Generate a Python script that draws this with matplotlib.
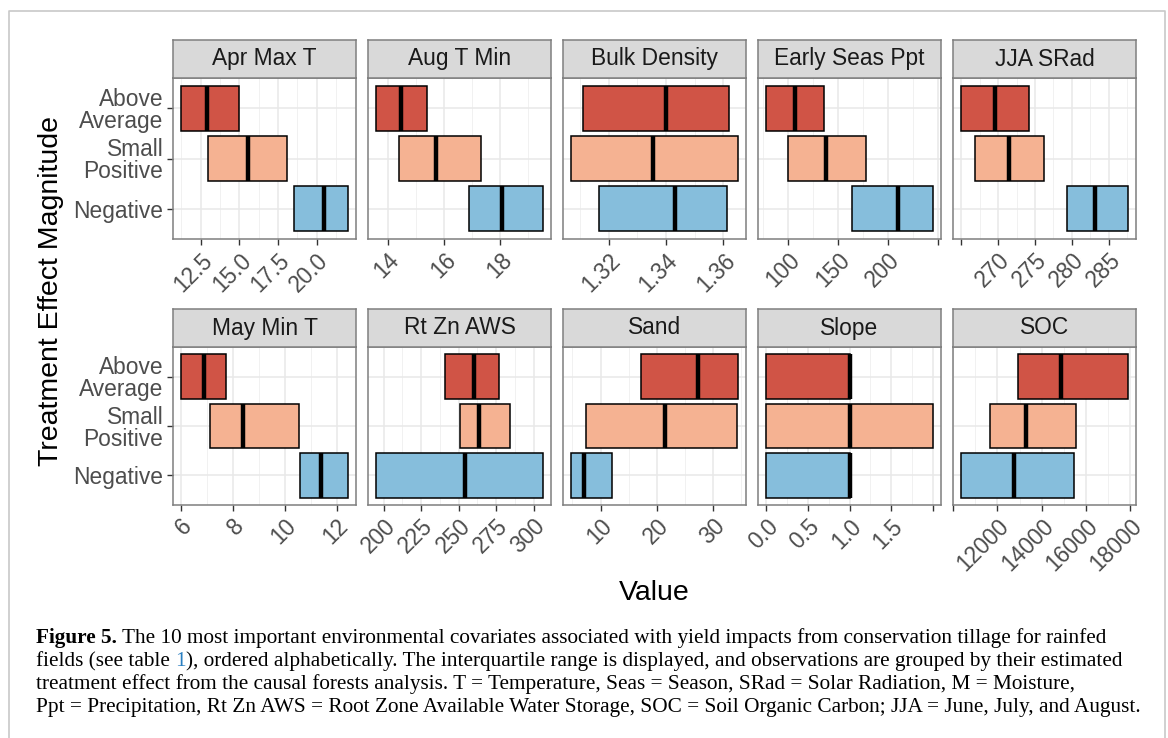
import numpy as np
import matplotlib.pyplot as plt
from matplotlib.lines import Line2D
from matplotlib.ticker import AutoMinorLocator

plt.rcParams['font.family'] = ['Liberation Sans', 'DejaVu Sans']

# %% data (interquartile range + median per treatment-effect group)
features = ["Apr Max T", "Aug T Min", "Bulk Density", "Early Seas Ppt", "JJA SRad",
            "May Min T", "Rt Zn AWS", "Sand", "Slope", "SOC"]
groups = ["Above Average", "Small Positive", "Negative"]
group_labels = ["Above\nAverage", "Small\nPositive", "Negative"]

above_q1 = [11.26, 13.59, 1.311, 78.3, 265.0, 6.03, 240.9, 17.2, 0.0, 12940]
above_med = [12.93, 14.48, 1.340, 106.8, 269.6, 6.89, 260.4, 27.4, 1.0, 14860]
above_q3 = [15.0, 15.39, 1.362, 136.1, 274.2, 7.73, 277.2, 34.4, 1.0, 17880]

small_q1 = [12.97, 14.39, 1.307, 100.0, 266.9, 7.12, 251.1, 7.4, 0.0, 11670]
small_med = [15.54, 15.73, 1.3355, 138.0, 271.5, 8.40, 263.3, 21.5, 1.0, 13270]
small_q3 = [18.07, 17.32, 1.365, 178.0, 276.2, 10.56, 284.3, 34.3, 2.0, 15530]

neg_q1 = [18.54, 16.89, 1.3167, 163.5, 279.3, 10.60, 195.1, 4.8, 0.0, 10370]
neg_med = [20.49, 18.07, 1.343, 210.3, 283.2, 11.39, 254.2, 7.0, 1.0, 12750]
neg_q3 = [21.99, 19.51, 1.3612, 244.5, 287.6, 12.42, 306.0, 12.1, 1.0, 15440]

ticks = [[12.5, 15, 17.5, 20], [14, 16, 18], [1.32, 1.34, 1.36], [100, 150, 200, 250],
         [265, 270, 275, 280, 285], [6, 8, 10, 12], [200, 225, 250, 275, 300],
         [10, 20, 30], [0, 0.5, 1, 1.5, 2], [10000, 12000, 14000, 16000, 18000]]
tick_labels = [["12.5", "15.0", "17.5", "20.0"], ["14", "16", "18"], ["1.32", "1.34", "1.36"],
               ["100", "150", "200", ""], ["", "270", "275", "280", "285"], ["6", "8", "10", "12"],
               ["200", "225", "250", "275", "300"], ["10", "20", "30"],
               ["0.0", "0.5", "1.0", "1.5", ""], ["", "12000", "14000", "16000", "18000"]]

colors = ["#D05446", "#F5B292", "#86BEDC"]

caption = [
    [("Figure 5.", "bold", "black"),
     (" The 10 most important environmental covariates associated with yield impacts from conservation tillage for rainfed", "normal", "black")],
    [("fields (see table ", "normal", "black"), ("1", "normal", "#2a7fc1"),
     ("), ordered alphabetically. The interquartile range is displayed, and observations are grouped by their estimated", "normal", "black")],
    [("treatment effect from the causal forests analysis. T = Temperature, Seas = Season, SRad = Solar Radiation, M = Moisture,", "normal", "black")],
    [("Ppt = Precipitation, Rt Zn AWS = Root Zone Available Water Storage, SOC = Soil Organic Carbon; JJA = June, July, and August.", "normal", "black")],
]

# %% figure
W, H = 1168, 738
fig = plt.figure(figsize=(W / 100, H / 100), dpi=100)


def px_axes(x0, y0, x1, y1):
    return fig.add_axes([x0 / W, 1 - y1 / H, (x1 - x0) / W, (y1 - y0) / H])


ypos = np.array([3, 2, 1])
frame = '#7f7f7f'

for i, name in enumerate(features):
    row, col = divmod(i, 5)
    x0 = 173 + col * 195
    top, bot = (78, 239) if row == 0 else (347, 505)
    ax = px_axes(x0, top, x0 + 183, bot)

    q1 = np.array([above_q1[i], small_q1[i], neg_q1[i]])
    q3 = np.array([above_q3[i], small_q3[i], neg_q3[i]])
    med = np.array([above_med[i], small_med[i], neg_med[i]])

    ax.barh(ypos, q3 - q1, left=q1, height=0.9, color=colors,
            edgecolor='black', linewidth=1.1, zorder=3)
    ax.vlines(med, ypos - 0.45, ypos + 0.45, color='black', lw=3.2,
              capstyle='butt', zorder=4)

    lo, hi = q1.min(), q3.max()
    pad = 0.05 * (hi - lo)
    ax.set_xlim(lo - pad, hi + pad)
    ax.set_ylim(0.4, 3.6)

    ax.set_xticks(ticks[i], tick_labels[i], rotation=45, ha='right',
                  rotation_mode='anchor')
    ax.xaxis.set_minor_locator(AutoMinorLocator(2))
    ax.tick_params(axis='x', which='major', length=4, width=1.0, color='#333333',
                   labelsize=16.4, labelcolor='#4D4D4D', pad=3)
    ax.tick_params(axis='x', which='minor', length=0)

    ax.set_yticks([1, 2, 3])
    if col == 0:
        ax.set_yticklabels(group_labels[::-1], linespacing=0.95)
        ax.tick_params(axis='y', length=4, width=1.0, color='#333333',
                       labelsize=16.4, labelcolor='#4D4D4D', pad=3)
    else:
        ax.tick_params(axis='y', length=0, labelleft=False)

    ax.grid(which='major', color='#E8E8E8', lw=1.1)
    ax.grid(which='minor', axis='x', color='#F1F1F1', lw=0.7)
    ax.set_axisbelow(True)
    for s in ax.spines.values():
        s.set_color(frame)
        s.set_linewidth(1.1)

    strip = px_axes(x0, top - 38, x0 + 183, top)
    strip.set_facecolor('#D9D9D9')
    strip.set_xticks([])
    strip.set_yticks([])
    for s in strip.spines.values():
        s.set_color(frame)
        s.set_linewidth(1.1)
    strip.text(0.5, 0.5, name, ha='center', va='center', fontsize=16.4,
               color='#1A1A1A', transform=strip.transAxes)

fig.text(51 / W, 1 - 291 / H, "Treatment Effect Magnitude", rotation=90,
         fontsize=20.5, ha='center', va='center')
fig.text(654 / W, 1 - 593 / H, "Value", fontsize=20.5, ha='center', va='center')

# outer frame of the figure box
fig.add_artist(Line2D([8.5 / W, 8.5 / W, 1164.5 / W, 1164.5 / W],
                      [0, 1 - 10.5 / H, 1 - 10.5 / H, 0], color='#c8c8c8', lw=1.2))

# caption, piece by piece so the bold/blue parts sit inline
renderer = fig.canvas.get_renderer()
for k, line in enumerate(caption):
    yb = 1 - (643 + 23 * k) / H
    x = 36
    for txt, weight, c in line:
        t = fig.text(x / W, yb, txt, ha='left', va='baseline', fontsize=15.3,
                     family='Liberation Serif', weight=weight, color=c)
        x = t.get_window_extent(renderer).x1

fig.savefig('out.png', dpi=100)
